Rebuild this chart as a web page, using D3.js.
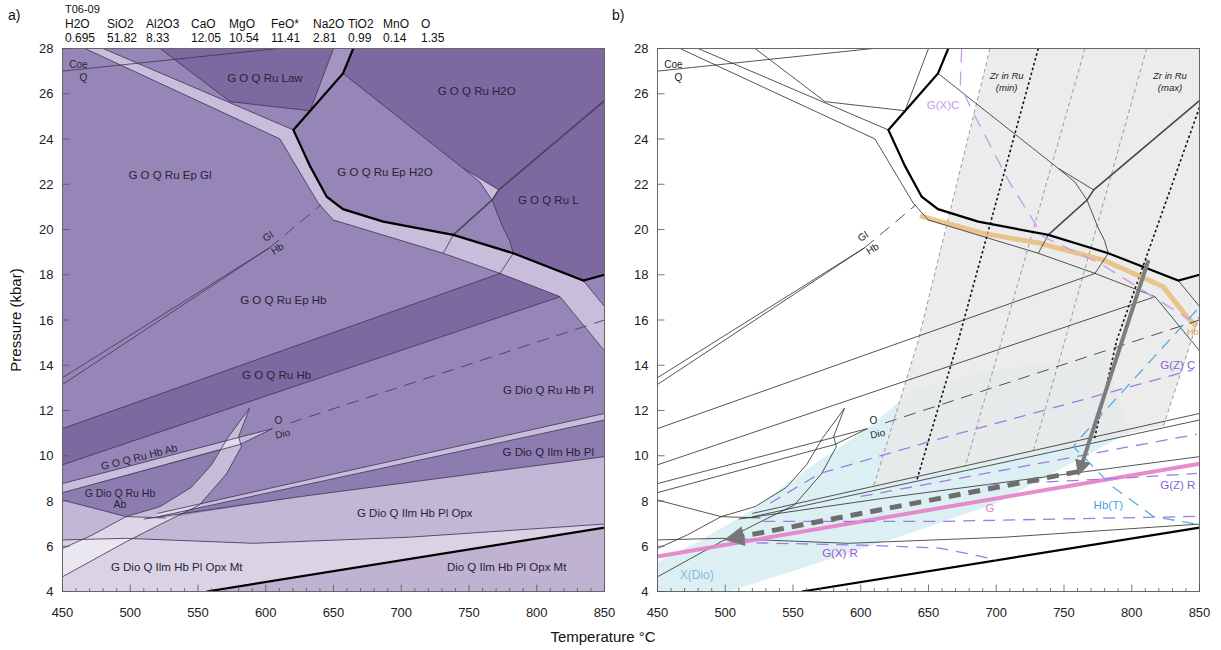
<!DOCTYPE html>
<html>
<head>
<meta charset="utf-8">
<script src="https://cdn.jsdelivr.net/npm/d3@7"></script>
<style>
body { margin: 0; background: #fff; }
svg text { font-family: "Liberation Sans", Arial, sans-serif; }
</style>
</head>
<body>
<svg id="chart" width="1221" height="650"></svg>
<script>
// ---- data (T in deg C, P in kbar) ----
var sampleName = 'T06-09';
var oxides = ['H2O', 'SiO2', 'Al2O3', 'CaO', 'MgO', 'FeO*', 'Na2O', 'TiO2', 'MnO', 'O'];
var oxideValues = ['0.695', '51.82', '8.33', '12.05', '10.54', '11.41', '2.81', '0.99', '0.14', '1.35'];
var tempTicks = [450, 500, 550, 600, 650, 700, 750, 800, 850];
var pressureTicks = [4, 6, 8, 10, 12, 14, 16, 18, 20, 22, 24, 26, 28];

// field boundaries
var coeQ = [[450, 27.0], [609, 28]];
var glBandUpper = [[480, 28], [620.4, 24.4]];
var glBandLower = [[466.6, 28], [610.5, 24.0], [638.8, 21.16], [649.9, 20.42], [731, 18.95], [772.9, 18.06], [817.2, 17.03], [849.6, 14.67]];
var solidus = [[664.6, 28], [657, 26.9], [620.4, 24.4], [632.7, 22.8], [645, 21.45], [657, 20.9], [686.7, 20.35], [738.4, 19.76], [782.7, 18.95], [834.4, 17.74], [850, 18.0]];
var lawLower = [[522, 28], [573.7, 25.65], [632.7, 25.25], [650, 28]];
var h2oLower = [[657, 26.9], [745.8, 22.7], [772, 21.75]];
var meltIn = [[850, 25.7], [772, 21.75], [767, 21.3], [738.4, 19.76]];
var arcLine = [[745.8, 22.7], [758, 22.1], [767, 21.3], [775, 20.1], [780, 19.5], [782.7, 18.95]];
var crossA = [[738.4, 19.76], [731, 18.95]];
var crossB = [[782.7, 18.95], [772.9, 18.06]];
var crossC = [[834.4, 17.74], [850, 16.6]];
var glHbUpper = [[450, 13.45], [603, 19.2]];
var glHbLower = [[450, 13.15], [603, 19.2]];
var glHbDashed = [[603, 19.2], [641, 21.1]];
var hbUpper = [[450, 11.2], [773, 18.06]];
var hbLower = [[450, 9.6], [817.2, 17.03]];
var oDioDashed = [[618, 11.45], [850, 16.0]];
var oDioUpper = [[450, 8.77], [605, 11.2]];
var oDioLower = [[450, 8.37], [581, 10.5], [605, 11.2]];
var curveA = [[588, 12.1], [572, 10.8], [560, 9.6], [545, 8.6], [522, 7.75], [497, 7.31], [472, 6.5], [450, 5.9]];
var curveB = [[588, 12.1], [580, 10.85], [582, 10.4], [571, 9.2], [551, 7.82], [525, 7.05], [497, 6.2], [450, 4.65]];
var abLower = [[450, 8.04], [497, 7.31], [526, 7.25]];
var ruIlmUpper = [[520, 7.45], [850, 11.87]];
var ruIlmLower = [[520, 7.3], [850, 11.58]];
var opxIn = [[510, 7.2], [625, 8.19], [850, 9.96]];
var mtIn = [[450, 6.28], [497, 6.35], [591, 6.13], [706, 6.4], [850, 6.98]];
var lowSolidus = [[556.5, 4], [850, 6.82]];

// panel a fields
var fieldLaw = [[522, 28], [650, 28], [632.7, 25.25], [573.7, 25.65]];
var fieldLawStrip = [[650, 28], [664.6, 28], [657, 26.9], [632.7, 25.25]];
var fieldH2O = [[664.6, 28], [850, 28], [850, 25.7], [772, 21.75], [745.8, 22.7], [657, 26.9]];
var fieldMelt = [[772, 21.75], [850, 25.7], [850, 18.0], [834.4, 17.74], [782.7, 18.95], [780, 19.5], [775, 20.1], [767, 21.3]];
var fieldTri = [[745.8, 22.7], [772, 21.75], [767, 21.3], [758, 22.1]];
var fieldBand = [[466.6, 28], [480, 28], [620.4, 24.4], [632.7, 22.8], [645, 21.45], [657, 20.9], [686.7, 20.35], [738.4, 19.76], [782.7, 18.95], [834.4, 17.74], [850, 16.6], [850, 14.62], [817.2, 17.03], [772.9, 18.06], [731, 18.95], [649.9, 20.42], [638.8, 21.16], [610.5, 24.0]];
var fieldHb = [[450, 11.2], [773, 18.06], [817.2, 17.03], [450, 9.6]];
var fieldODio = [[450, 8.77], [605, 11.2], [581, 10.5], [450, 8.37]];
var fieldAb = [[450, 8.37], [566, 10.3], [560, 9.6], [545, 8.6], [522, 7.75], [497, 7.31], [450, 8.04]];
var fieldIlm = [[520, 7.3], [850, 11.58], [850, 9.96], [625, 8.19], [510, 7.2]];
var fieldRuIlm = [[520, 7.45], [850, 11.87], [850, 11.58], [520, 7.3]];
var fieldOpx = [[450, 8.04], [497, 7.31], [526, 7.25], [625, 8.19], [850, 9.96], [850, 6.98], [706, 6.4], [591, 6.13], [497, 6.35], [450, 6.28]];
var fieldMt = [[450, 6.28], [497, 6.35], [591, 6.13], [706, 6.4], [850, 6.98], [850, 6.82], [556.5, 4], [450, 4]];
var fieldSub = [[556.5, 4], [850, 6.82], [850, 4]];

// panel b overlays
var zrGrey1 = [[695.4, 28], [642.5, 15.1], [609.3, 8.6]];
var zrGrey2 = [[765.5, 28], [704, 15.1], [677, 9.5]];
var zrGrey3 = [[811, 28], [750.7, 15.1], [727, 10.15]];
var zrGrey4 = [[850, 16.2], [823.3, 11.3]];
var zrMin = [[731, 28], [672, 15.1], [641, 8.85]];
var zrMax = [[850, 25.4], [788.9, 15.1], [772.5, 10.75]];
var zrShade = [[695.4, 28], [850, 28], [850, 16.2], [823.3, 11.3], [609.3, 8.6], [642.5, 15.1]];
var xDioField = [[450, 4], [503, 4], [630, 6.45], [700, 7.9], [797, 11.0], [782, 14.5], [700, 13.8], [640, 13.0], [605, 11.2], [560, 9.4], [520, 7.6], [480, 6.2], [450, 5.3]];
var hbSolidus = [[643.7, 20.6], [690.5, 19.83], [732.3, 19.39], [779, 18.65], [823.3, 17.47], [840.5, 16.15], [848, 15.7]];
var gxC = [[674.5, 28], [673.5, 26.4], [681.9, 25.28], [710.2, 22.04], [734.8, 19.68], [776.6, 18.5], [843, 16.0]];
var gzC = [[533, 7.9], [570, 9.22], [658, 10.75], [845, 13.8]];
var gzMid = [[600, 8.2], [848, 10.95]];
var gzR = [[693, 8.71], [790, 9.0], [848, 9.22]];
var gxFlat = [[528, 7.1], [658, 7.1], [848, 7.32]];
var gxR = [[523, 6.15], [600, 6.05], [658, 5.92], [685, 5.6], [700, 5.4]];
var hbT = [[848, 16.44], [763, 10.85], [757, 10.4], [786, 8.63], [816, 7.31], [846, 7.0]];
var gLine = [[450, 5.55], [850, 9.65]];
var ptPeak = [[812.3, 18.65], [761.8, 9.37]];
var ptRetro = [[760.6, 9.3], [505, 6.35]];

// ---- layout ----
var svg = d3.select('#chart');
var y = d3.scaleLinear().domain([4, 28]).range([591.5, 48.5]);
var xA = d3.scaleLinear().domain([450, 850]).range([62.5, 604.5]);
var xB = d3.scaleLinear().domain([450, 850]).range([657.5, 1199.5]);

var dark = '#7e68a0', medium = '#9685b7', mediumDark = '#8d7cb0', light = '#c8bedb',
    opxCol = '#c2b7d5', mtCol = '#dad3e6', subCol = '#bfb3d1';

function lineFn(x) {
  return d3.line().x(function(d) { return x(d[0]); }).y(function(d) { return y(d[1]); });
}

svg.append('defs').selectAll('clipPath').data([['clipA', xA], ['clipB', xB]])
  .enter().append('clipPath').attr('id', function(d) { return d[0]; })
  .append('rect')
  .attr('x', function(d) { return d[1](450); }).attr('y', y(28))
  .attr('width', function(d) { return d[1](850) - d[1](450); }).attr('height', y(4) - y(28));

svg.select('defs').append('marker').attr('id', 'arrowHead')
  .attr('viewBox', '0 0 10 10').attr('refX', 6).attr('refY', 5)
  .attr('markerWidth', 4).attr('markerHeight', 4).attr('orient', 'auto-start-reverse')
  .append('path').attr('d', 'M0,0 L10,5 L0,10 z').attr('fill', '#777');

function drawBoundaries(g, x, col, w) {
  var line = lineFn(x);
  var thin = [coeQ, glBandUpper, glBandLower, lawLower, h2oLower, arcLine, crossA, crossB, crossC,
    glHbUpper, glHbLower, hbUpper, hbLower, oDioUpper, oDioLower, curveA, curveB, abLower,
    ruIlmUpper, ruIlmLower, opxIn, mtIn];
  g.selectAll(null).data(thin).enter().append('path')
    .attr('d', line).attr('fill', 'none').attr('stroke', col).attr('stroke-width', w);
  g.append('path').attr('d', line(meltIn)).attr('fill', 'none').attr('stroke', '#4a4458').attr('stroke-width', 1.6);
  g.selectAll(null).data([glHbDashed, oDioDashed]).enter().append('path')
    .attr('d', line).attr('fill', 'none').attr('stroke', col).attr('stroke-width', w)
    .attr('stroke-dasharray', '12,8');
  g.selectAll(null).data([solidus, lowSolidus]).enter().append('path')
    .attr('d', line).attr('fill', 'none').attr('stroke', '#000').attr('stroke-width', 2.2);
}

function drawAxes(x) {
  var g = svg.append('g');
  g.append('rect').attr('x', x(450)).attr('y', y(28))
    .attr('width', x(850) - x(450)).attr('height', y(4) - y(28))
    .attr('fill', 'none').attr('stroke', '#666').attr('stroke-width', 1);
  var minor = d3.range(450, 851, 10);
  g.selectAll(null).data(minor).enter().append('line')
    .attr('x1', function(d) { return x(d); }).attr('x2', function(d) { return x(d); })
    .attr('y1', y(4)).attr('y2', function(d) { return y(4) - (d % 50 === 0 ? 7 : 3.5); })
    .attr('stroke', '#555').attr('stroke-width', 0.8);
  g.selectAll(null).data(pressureTicks).enter().append('line')
    .attr('x1', x(450)).attr('x2', x(450) + 7)
    .attr('y1', function(d) { return y(d); }).attr('y2', function(d) { return y(d); })
    .attr('stroke', '#555').attr('stroke-width', 0.8);
  g.selectAll(null).data(tempTicks).enter().append('text')
    .attr('x', function(d) { return x(d); }).attr('y', y(4) + 25)
    .attr('text-anchor', 'middle').attr('font-size', 13).attr('fill', '#222').text(function(d) { return d; });
  g.selectAll(null).data(pressureTicks).enter().append('text')
    .attr('x', x(450) - 9).attr('y', function(d) { return y(d) + 4.5; })
    .attr('text-anchor', 'end').attr('font-size', 13).attr('fill', '#222').text(function(d) { return d; });
}

function label(g, x, t, T, P, opts) {
  opts = opts || {};
  var el = g.append('text').attr('x', x(T)).attr('y', y(P) + 4)
    .attr('text-anchor', opts.anchor || 'middle')
    .attr('font-size', opts.size || 11.5)
    .attr('fill', opts.color || '#2a2238')
    .text(t);
  if (opts.italic) el.attr('font-style', 'italic');
  if (opts.rot) el.attr('transform', 'rotate(' + opts.rot + ',' + x(T) + ',' + (y(P) + 4) + ')');
  return el;
}

// ---- panel a ----
var gA = svg.append('g').attr('clip-path', 'url(#clipA)');
var lineA = lineFn(xA);
gA.append('rect').attr('x', xA(450)).attr('y', y(28)).attr('width', xA(850) - xA(450))
  .attr('height', y(4) - y(28)).attr('fill', medium);
var fieldsA = [
  [fieldLaw, dark], [fieldLawStrip, '#a394c2'], [fieldH2O, dark], [fieldMelt, dark], [fieldTri, light],
  [fieldBand, light], [fieldHb, dark], [fieldODio, light], [fieldAb, mediumDark], [fieldIlm, mediumDark],
  [fieldRuIlm, light], [fieldOpx, opxCol], [fieldMt, mtCol], [fieldSub, subCol]
];
gA.selectAll(null).data(fieldsA).enter().append('path')
  .attr('d', function(d) { return lineA(d[0]) + 'Z'; })
  .attr('fill', function(d) { return d[1]; });
// lighter lens between the two curved boundaries
gA.append('path').attr('d', lineA(curveA.concat(curveB.slice().reverse())) + 'Z')
  .attr('fill', '#fff').attr('opacity', 0.45);
drawBoundaries(gA, xA, '#3e3450', 0.8);
drawAxes(xA);

var labA = svg.append('g');
label(labA, xA, 'Coe', 461.7, 27.3, {size: 10});
label(labA, xA, 'Q', 465.4, 26.75, {size: 10});
label(labA, xA, 'G O Q Ru Law', 599.4, 26.7);
label(labA, xA, 'G O Q Ru H2O', 755.7, 26.1);
label(labA, xA, 'G O Q Ru Ep Gl', 529.3, 22.4);
label(labA, xA, 'G O Q Ru Ep H2O', 688, 22.55);
label(labA, xA, 'G O Q Ru L', 808.5, 21.3);
label(labA, xA, 'Gl', 603, 19.75, {size: 10, rot: -33});
label(labA, xA, 'Hb', 610, 19.2, {size: 10, rot: -33});
label(labA, xA, 'G O Q Ru Ep Hb', 613, 16.9);
label(labA, xA, 'G O Q Ru Hb', 608, 13.57);
label(labA, xA, 'O', 609.3, 11.58, {size: 10});
label(labA, xA, 'Dio', 613, 11.0, {size: 10, rot: -12});
label(labA, xA, 'G Dio Q Ru Hb Pl', 808.5, 12.9);
label(labA, xA, 'G O Q Ru Hb Ab', 507.2, 9.96, {size: 10.5, rot: -14});
label(labA, xA, 'G Dio Q Ru Hb', 492.4, 8.37, {size: 10.5});
label(labA, xA, 'Ab', 492.4, 7.87, {size: 10.5});
label(labA, xA, 'G Dio Q Ilm Hb Pl', 808.5, 10.18);
label(labA, xA, 'G Dio Q Ilm Hb Pl Opx', 710, 7.46);
label(labA, xA, 'G Dio Q Ilm Hb Pl Opx Mt', 534.3, 5.1);
label(labA, xA, 'Dio Q Ilm Hb Pl Opx Mt', 777.8, 5.1);

// ---- panel b ----
var gB = svg.append('g').attr('clip-path', 'url(#clipB)');
var lineB = lineFn(xB);
gB.append('path').attr('d', lineB(xDioField) + 'Z').attr('fill', '#dcf0f4');
gB.append('path').attr('d', lineB(zrShade) + 'Z').attr('fill', '#e9e9e9').attr('opacity', 0.85);
gB.selectAll(null).data([zrGrey1, zrGrey2, zrGrey3, zrGrey4]).enter().append('path')
  .attr('d', lineB).attr('fill', 'none').attr('stroke', '#9a9a9a').attr('stroke-width', 1)
  .attr('stroke-dasharray', '4,3');
gB.selectAll(null).data([zrMin, zrMax]).enter().append('path')
  .attr('d', lineB).attr('fill', 'none').attr('stroke', '#111').attr('stroke-width', 1.6)
  .attr('stroke-dasharray', '2.5,2.5');
gB.append('path').attr('d', lineB(hbSolidus)).attr('fill', 'none')
  .attr('stroke', '#e8b56c').attr('stroke-width', 5).attr('opacity', 0.75).attr('stroke-linejoin', 'round');
drawBoundaries(gB, xB, '#2a2a2a', 0.8);
gB.append('path').attr('d', lineB(gLine)).attr('fill', 'none')
  .attr('stroke', '#e67fc9').attr('stroke-width', 4).attr('opacity', 0.9);
gB.selectAll(null).data([gzC, gzMid, gzR, gxFlat, gxR]).enter().append('path')
  .attr('d', lineB).attr('fill', 'none').attr('stroke', '#a07ae6').attr('stroke-width', 1.3)
  .attr('stroke-dasharray', '12,8');
gB.append('path').attr('d', lineB(gxC)).attr('fill', 'none')
  .attr('stroke', '#c79be8').attr('stroke-width', 1.3).attr('stroke-dasharray', '14,9');
gB.append('path').attr('d', lineB(hbT)).attr('fill', 'none')
  .attr('stroke', '#5aaae0').attr('stroke-width', 1.3).attr('stroke-dasharray', '12,8');
gB.append('path').attr('d', lineB(ptRetro)).attr('fill', 'none')
  .attr('stroke', '#6e6e6e').attr('stroke-width', 5).attr('stroke-dasharray', '12,8')
  .attr('marker-end', 'url(#arrowHead)');
gB.append('path').attr('d', lineB(ptPeak)).attr('fill', 'none')
  .attr('stroke', '#7d7d7d').attr('stroke-width', 4)
  .attr('marker-end', 'url(#arrowHead)');
drawAxes(xB);

var labB = svg.append('g');
label(labB, xB, 'Coe', 461.7, 27.3, {size: 10, color: '#222'});
label(labB, xB, 'Q', 465.4, 26.75, {size: 10, color: '#222'});
label(labB, xB, 'Gl', 603, 19.75, {size: 10, rot: -33, color: '#222'});
label(labB, xB, 'Hb', 610, 19.2, {size: 10, rot: -33, color: '#222'});
label(labB, xB, 'O', 609.3, 11.58, {size: 10, color: '#222'});
label(labB, xB, 'Dio', 613, 11.0, {size: 10, rot: -12, color: '#222'});
label(labB, xB, 'G(X)C', 660.7, 25.5, {size: 11.5, color: '#c79be8'});
label(labB, xB, 'Zr in Ru', 707.7, 26.85, {size: 9.5, italic: true, color: '#222'});
label(labB, xB, '(min)', 707.7, 26.3, {size: 9.5, italic: true, color: '#222'});
label(labB, xB, 'Zr in Ru', 828.2, 26.85, {size: 9.5, italic: true, color: '#222'});
label(labB, xB, '(max)', 828.2, 26.3, {size: 9.5, italic: true, color: '#222'});
label(labB, xB, 'Hb', 845, 15.5, {size: 9, color: '#d9a24a'});
label(labB, xB, 'G(Z) C', 834, 14.0, {size: 11.5, color: '#8a5fd6'});
label(labB, xB, 'G(Z) R', 834, 8.71, {size: 11.5, color: '#8a5fd6'});
label(labB, xB, 'Hb(T)', 782.7, 7.82, {size: 11.5, color: '#4aa3df'});
label(labB, xB, 'G', 695.4, 7.7, {size: 11.5, color: '#e07cc8'});
label(labB, xB, 'G(X) R', 584.7, 5.69, {size: 11.5, color: '#a64fd6'});
label(labB, xB, 'X(Dio)', 478.9, 4.73, {size: 12, color: '#8ab8e0'});

// ---- header & titles ----
var hdr = svg.append('g').attr('font-size', 12).attr('fill', '#111');
var oxideX = [65, 107, 146, 191, 229, 271, 313, 348, 383, 421];
hdr.append('text').attr('x', 8).attr('y', 20).attr('font-size', 14).text('a)');
hdr.append('text').attr('x', 612).attr('y', 20).attr('font-size', 14).text('b)');
hdr.append('text').attr('x', 65).attr('y', 13).attr('font-size', 11).text(sampleName);
hdr.selectAll(null).data(oxides).enter().append('text')
  .attr('x', function(d, i) { return oxideX[i]; }).attr('y', 28).text(function(d) { return d; });
hdr.selectAll(null).data(oxideValues).enter().append('text')
  .attr('x', function(d, i) { return oxideX[i]; }).attr('y', 42).text(function(d) { return d; });
svg.append('text').attr('transform', 'translate(21,' + y(16) + ') rotate(-90)')
  .attr('text-anchor', 'middle').attr('font-size', 15).attr('fill', '#111').text('Pressure (kbar)');
svg.append('text').attr('x', 603).attr('y', 642).attr('text-anchor', 'middle')
  .attr('font-size', 15).attr('fill', '#111').text('Temperature °C');
</script>
</body>
</html>
